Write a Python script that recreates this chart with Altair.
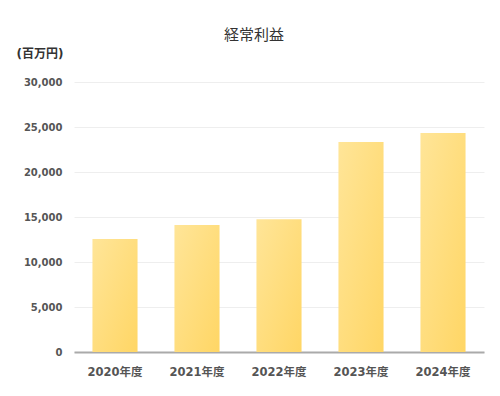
import altair as alt
import pandas as pd

years = ["2020年度", "2021年度", "2022年度", "2023年度", "2024年度"]
values = [12550, 14100, 14750, 23330, 24330]

df = pd.DataFrame({"year": years, "value": values})

FONT = "DejaVu Sans, Noto Sans CJK JP, sans-serif"

gradient = alt.Gradient(
    gradient="linear",
    x1=0, y1=0, x2=1, y2=1,
    stops=[
        alt.GradientStop(color="#FFE598", offset=0),
        alt.GradientStop(color="#FFD665", offset=1),
    ],
)

chart = (
    alt.Chart(df)
    .mark_bar(color=gradient)
    .encode(
        x=alt.X(
            "year:N",
            sort=years,
            title=None,
            scale=alt.Scale(paddingInner=0.45, paddingOuter=0.225),
            axis=alt.Axis(
                labelAngle=0,
                labelFont=FONT,
                labelFontSize=11.5,
                labelFontWeight="bold",
                labelColor="#555555",
                labelPadding=14,
                ticks=False,
                domainColor="#aaaaaa",
                domainWidth=2,
                grid=False,
            ),
        ),
        y=alt.Y(
            "value:Q",
            title="(百万円)",
            scale=alt.Scale(domain=[0, 30000]),
            axis=alt.Axis(
                values=[0, 5000, 10000, 15000, 20000, 25000, 30000],
                format=",d",
                labelFont=FONT,
                labelFontSize=10,
                labelFontWeight="bold",
                labelColor="#555555",
                labelPadding=12,
                ticks=False,
                domain=False,
                gridColor="#eeeeee",
                gridWidth=1,
                titleAngle=0,
                titleAlign="left",
                titleBaseline="middle",
                titleX=-58,
                titleY=-29,
                titleFont=FONT,
                titleFontSize=12,
                titleFontWeight="bold",
                titleColor="#333333",
            ),
        ),
    )
    .properties(
        width=410,
        height=270,
        autosize=alt.AutoSizeParams(type="none"),
        padding={"left": 66, "top": 74, "right": 8, "bottom": 30},
        title=alt.Title(
            "経常利益",
            font="Noto Sans CJK JP",
            fontSize=15,
            fontWeight="normal",
            color="#333333",
            anchor="middle",
            dx=-25,
            offset=4,
        ),
    )
    .configure_view(stroke=None)
)

chart.save("out.html", embed_options={"renderer": "svg", "actions": False})
